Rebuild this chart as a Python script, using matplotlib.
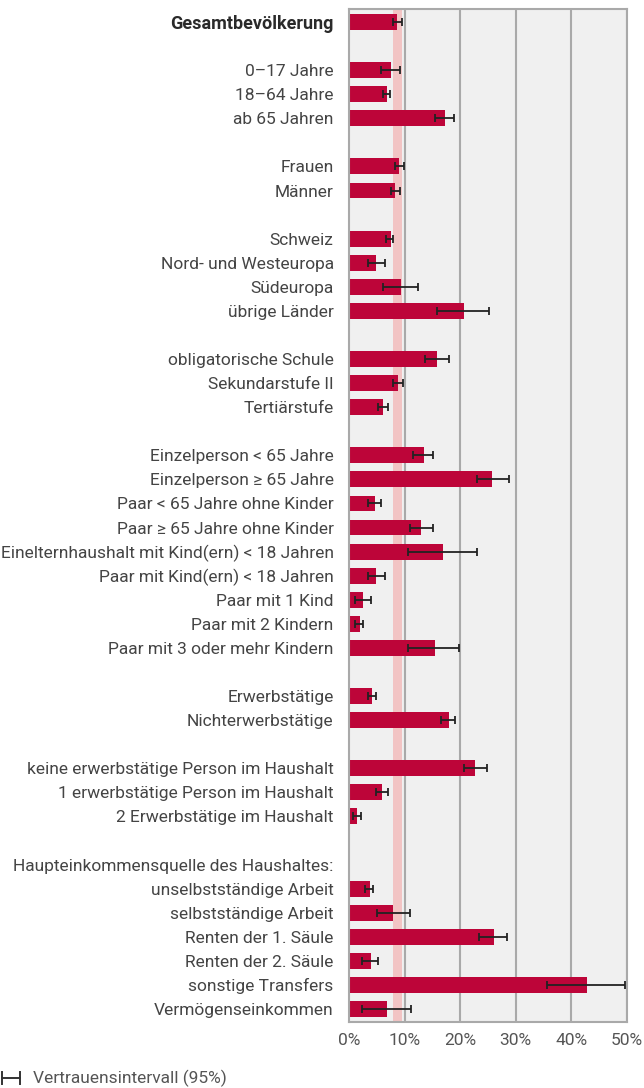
import numpy as np
import matplotlib
matplotlib.use("Agg")
import matplotlib.pyplot as plt
from matplotlib.lines import Line2D

plt.rcParams['font.family'] = ['Roboto', 'DejaVu Sans']

# rows from top to bottom, "" = spacer row
labels = [
    "Gesamtbevölkerung", "",
    "0–17 Jahre", "18–64 Jahre", "ab 65 Jahren", "",
    "Frauen", "Männer", "",
    "Schweiz", "Nord- und Westeuropa", "Südeuropa", "übrige Länder", "",
    "obligatorische Schule", "Sekundarstufe II", "Tertiärstufe", "",
    "Einzelperson < 65 Jahre", "Einzelperson ≥ 65 Jahre",
    "Paar < 65 Jahre ohne Kinder", "Paar ≥ 65 Jahre ohne Kinder",
    "Einelternhaushalt mit Kind(ern) < 18 Jahren",
    "Paar mit Kind(ern) < 18 Jahren", "Paar mit 1 Kind",
    "Paar mit 2 Kindern", "Paar mit 3 oder mehr Kindern", "",
    "Erwerbstätige", "Nichterwerbstätige", "",
    "keine erwerbstätige Person im Haushalt",
    "1 erwerbstätige Person im Haushalt",
    "2 Erwerbstätige im Haushalt", "",
    "Haupteinkommensquelle des Haushaltes:",
    "unselbstständige Arbeit", "selbstständige Arbeit",
    "Renten der 1. Säule", "Renten der 2. Säule",
    "sonstige Transfers", "Vermögenseinkommen",
]
nan = np.nan
values = [
    8.7, nan,
    7.5, 6.8, 17.2, nan,
    9.0, 8.3, nan,
    7.5, 4.9, 9.3, 20.6, nan,
    15.9, 8.9, 6.2, nan,
    13.4, 25.8, 4.6, 13.0, 16.9, 4.9, 2.6, 1.9, 15.4, nan,
    4.2, 17.9, nan,
    22.7, 6.0, 1.5, nan,
    nan, 3.7, 8.0, 26.0, 3.9, 42.8, 6.8,
]
ci_low = [
    8.0, nan,
    5.8, 6.1, 15.5, nan,
    8.2, 7.5, nan,
    6.7, 3.5, 6.1, 15.9, nan,
    13.7, 8.0, 5.3, nan,
    11.6, 23.0, 3.4, 10.9, 10.6, 3.5, 1.1, 1.0, 10.7, nan,
    3.5, 16.5, nan,
    20.6, 4.9, 0.7, nan,
    nan, 2.8, 5.1, 23.3, 2.3, 35.7, 2.4,
]
ci_high = [
    9.5, nan,
    9.2, 7.4, 18.9, nan,
    9.9, 9.2, nan,
    8.0, 6.5, 12.4, 25.2, nan,
    18.0, 9.7, 7.0, nan,
    15.1, 28.7, 5.8, 15.1, 23.0, 6.4, 4.0, 2.6, 19.8, nan,
    4.9, 19.1, nan,
    24.8, 7.1, 2.1, nan,
    nan, 4.3, 10.9, 28.5, 5.3, 49.7, 11.1,
]
xticks = [0, 10, 20, 30, 40, 50]

bar_color = "#bd0539"
grid_color = "#a9a9a9"
text_color = "#444444"

vals = np.array(values)
lo = np.array(ci_low)
hi = np.array(ci_high)
y = np.arange(len(labels))
has = ~np.isnan(vals)

fig = plt.figure(figsize=(6.44, 10.88), dpi=100)
ax = fig.add_axes([349 / 644, 1 - 1022 / 1088, (627 - 349) / 644, (1022 - 9) / 1088])
ax.set_facecolor("#f0f0f0")

# band = confidence interval of the whole population
ax.axvspan(lo[0], hi[0], color="#f2c4c4", zorder=1, lw=0)
for t in xticks[1:]:
    ax.axvline(t, color=grid_color, lw=1.5, zorder=0.5)

ax.barh(y[has], vals[has], height=0.66, color=bar_color, zorder=2)
ax.errorbar(vals[has], y[has],
            xerr=[vals[has] - lo[has], hi[has] - vals[has]],
            fmt="none", ecolor="#222222", elinewidth=1.3, capsize=2.6,
            capthick=1.3, zorder=3)

ax.set_xlim(0, 50)
ax.set_ylim(len(labels) - 0.46, -0.54)
ax.set_xticks(xticks)
ax.set_xticklabels([f"{t}%" for t in xticks], color="#555555", fontsize=12.5)
ax.set_yticks(y)
ax.set_yticklabels(labels, fontsize=12.5, color=text_color)
ax.tick_params(axis="y", length=0, pad=11)
ax.tick_params(axis="x", length=0, pad=8)
ax.get_yticklabels()[0].set_fontweight("bold")
ax.get_yticklabels()[0].set_fontsize(13)
ax.get_yticklabels()[0].set_color("#2a2a2a")

for s in ax.spines.values():
    s.set_color(grid_color)
    s.set_linewidth(1.5)

# legend for the error bars
ly = 1 - 1078 / 1088
fig.add_artist(Line2D([2 / 644, 20 / 644], [ly, ly], color="#333333", lw=1.4))
for lx in (2 / 644, 20 / 644):
    fig.add_artist(Line2D([lx, lx], [ly - 6 / 1088, ly + 6 / 1088], color="#333333", lw=1.4))
fig.text(33 / 644, ly, "Vertrauensintervall (95%)", fontsize=12.5, color="#555555",
         va="center", ha="left")

fig.savefig("out.png", dpi=100)
